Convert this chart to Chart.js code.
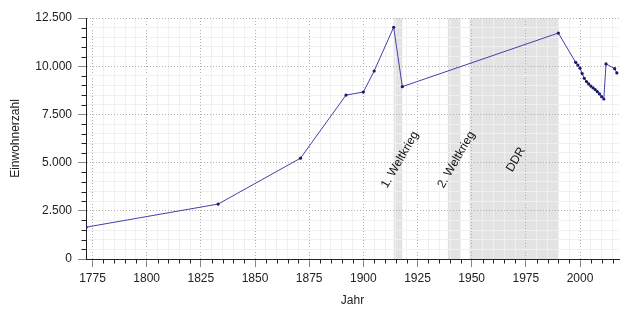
<!DOCTYPE html>
<html>
<head>
<meta charset="utf-8">
<script src="https://cdn.jsdelivr.net/npm/chart.js@4/dist/chart.umd.min.js"></script>
<style>
  html, body { margin: 0; padding: 0; background: #fff; }
  #wrap { width: 630px; height: 315px; }
</style>
</head>
<body>
<div id="wrap"><canvas id="einwohner"></canvas></div>
<script>
// Einwohnerentwicklung, Werte
var years = [1772, 1833, 1871, 1892, 1900, 1905, 1914, 1918, 1990,
  1998, 1999, 2000, 2001, 2002, 2003, 2004, 2005, 2006, 2007, 2008, 2009, 2010, 2011,
  2012, 2016, 2017];
var population = [1650, 2850, 5230, 8500, 8660, 9750, 12020, 8940, 11720,
  10200, 10060, 9900, 9620, 9370, 9200, 9080, 8970, 8880, 8790, 8680, 8560, 8420, 8300,
  10120, 9870, 9650];

// Zeitraeume (grau hinterlegt)
var periodLabels = ["1. Weltkrieg", "2. Weltkrieg", "DDR"];
var periodStart = [1914, 1939, 1949];
var periodEnd = [1918, 1945, 1990];

var xMin = 1772, xMax = 2018;
var yMax = 12500;

function fmt(v) {
  return String(v).replace(/\B(?=(\d{3})+(?!\d))/g, ".");
}

var points = years.map(function (y, i) { return { x: y, y: population[i] }; });

var fontFamily = "'Liberation Sans', Arial, sans-serif";
Chart.defaults.font.family = fontFamily;
Chart.defaults.font.size = 12;
Chart.defaults.color = "#222";

var bandsPlugin = {
  id: "bands",
  beforeDraw: function (chart) {
    var ctx = chart.ctx, a = chart.chartArea, xs = chart.scales.x;
    ctx.save();
    ctx.fillStyle = "#e3e3e3";
    for (var i = 0; i < periodStart.length; i++) {
      var x0 = xs.getPixelForValue(periodStart[i]);
      var x1 = xs.getPixelForValue(periodEnd[i]);
      ctx.fillRect(x0, a.top, x1 - x0, a.bottom - a.top);
    }
    ctx.restore();
  },
  afterDraw: function (chart) {
    var ctx = chart.ctx, a = chart.chartArea, xs = chart.scales.x, ys = chart.scales.y;
    ctx.save();
    // kurze Striche fuer die Zwischenwerte
    ctx.strokeStyle = "#222";
    ctx.lineWidth = 1;
    ctx.beginPath();
    xs.ticks.forEach(function (t) {
      if (t.value % 25 !== 0) {
        var px = Math.round(xs.getPixelForValue(t.value)) + 0.5;
        ctx.moveTo(px, a.bottom);
        ctx.lineTo(px, a.bottom + 4.5);
      }
    });
    ys.ticks.forEach(function (t) {
      if (t.value % 2500 !== 0) {
        var py = Math.round(ys.getPixelForValue(t.value)) + 0.5;
        ctx.moveTo(a.left, py);
        ctx.lineTo(a.left - 4.5, py);
      }
    });
    ctx.stroke();
    // Beschriftung der Zeitraeume
    ctx.fillStyle = "#111";
    ctx.font = "12px " + fontFamily;
    ctx.textAlign = "center";
    ctx.textBaseline = "middle";
    for (var i = 0; i < periodLabels.length; i++) {
      var cx = xs.getPixelForValue((periodStart[i] + periodEnd[i]) / 2) + 2;
      var cy = ys.getPixelForValue(5150);
      ctx.save();
      ctx.translate(cx, cy);
      ctx.rotate(-Math.PI / 3);
      ctx.fillText(periodLabels[i], 0, 0);
      ctx.restore();
    }
    ctx.restore();
  }
};

var config = {
  type: "line",
  data: {
    datasets: [{
      data: points,
      borderColor: "#4242a8",
      borderWidth: 1,
      tension: 0,
      pointRadius: 1.6,
      pointBorderWidth: 0,
      pointBackgroundColor: "#191970",
      pointHoverRadius: 1.6
    }]
  },
  plugins: [bandsPlugin],
  options: {
    responsive: true,
    maintainAspectRatio: false,
    animation: false,
    events: [],
    layout: { padding: { top: 18, right: 11, left: 0, bottom: 0 } },
    plugins: { legend: { display: false }, tooltip: { enabled: false } },
    scales: {
      x: {
        type: "linear",
        min: xMin,
        max: xMax,
        afterFit: function (s) { s.height = 56; },
        ticks: {
          stepSize: 5,
          includeBounds: false,
          autoSkip: false,
          maxRotation: 0,
          padding: 4,
          callback: function (v) { return v % 25 === 0 ? String(v) : ""; }
        },
        grid: {
          tickLength: 8,
          lineWidth: 1,
          color: function (c) { return c.tick && c.tick.value % 25 === 0 ? "#b0b0b0" : "#f0f0f0"; },
          tickColor: function (c) { return c.tick && c.tick.value % 25 === 0 ? "#888" : "rgba(0,0,0,0)"; }
        },
        border: {
          color: "#222",
          dash: function (c) { return c.tick && c.tick.value % 25 === 0 ? [1, 2] : []; }
        },
        title: { display: true, text: "Jahr", padding: { top: 7, bottom: 7 }, font: { size: 12 } }
      },
      y: {
        min: 0,
        max: yMax,
        afterFit: function (s) { s.width = 86; },
        ticks: {
          stepSize: 500,
          autoSkip: false,
          padding: 6,
          callback: function (v) { return v % 2500 === 0 ? fmt(v) : ""; }
        },
        grid: {
          tickLength: 8,
          lineWidth: 1,
          color: function (c) { return c.tick && c.tick.value % 2500 === 0 ? "#b0b0b0" : "#f0f0f0"; },
          tickColor: function (c) { return c.tick && c.tick.value % 2500 === 0 ? "#888" : "rgba(0,0,0,0)"; }
        },
        border: {
          color: "#222",
          dash: function (c) { return c.tick && c.tick.value % 2500 === 0 ? [1, 2] : []; }
        },
        title: { display: true, text: "Einwohnerzahl", padding: { top: 8, bottom: 8 }, font: { size: 12 } }
      }
    }
  }
};

var chart = new Chart(document.getElementById("einwohner"), config);
</script>
</body>
</html>
